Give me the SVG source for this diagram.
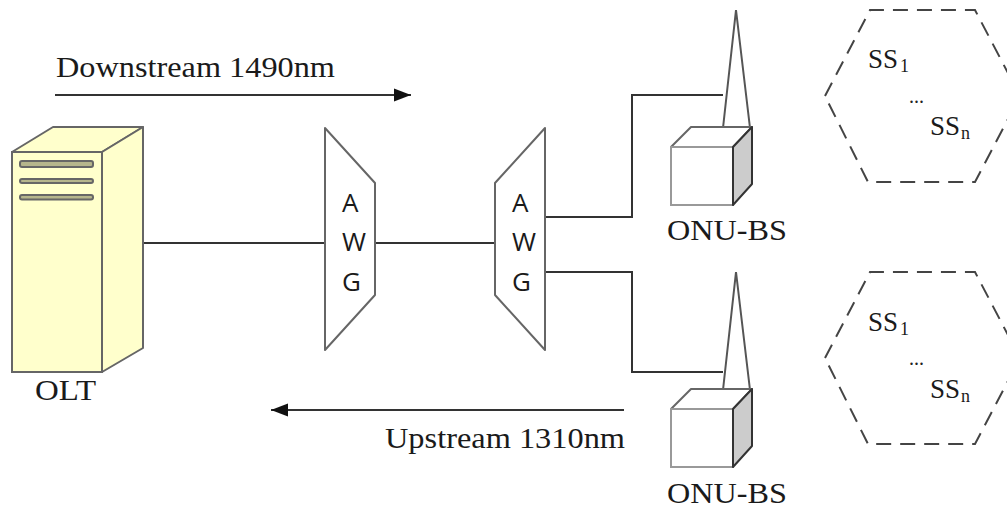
<svg xmlns="http://www.w3.org/2000/svg" width="1007" height="508" viewBox="0 0 1007 508">
<defs>
<marker id="ah" markerUnits="userSpaceOnUse" markerWidth="18" markerHeight="14" refX="17" refY="7" orient="auto"><path d="M0,0.5 L17,7 L0,13.500 Z" fill="#111"/></marker>
<g id="onu">
<path class="ant" d="M723,128 L736,10 L750,128"/>
<path class="cube" d="M671,147 L691,127 L752,127 L733,147 Z" fill="#fff"/>
<rect x="671" y="147" width="62" height="58" fill="#fff" stroke="#999" stroke-width="2"/>
<path d="M733,147 L752,127 L752,184 L733,205 Z" fill="#ccc" stroke="#333" stroke-width="2" stroke-linejoin="round"/>
</g>
<g id="hex">
<path d="M825,96 L870,10 L975,10 L1020,96 L975,182 L868,182 Z" fill="none" stroke="#444" stroke-width="2" stroke-dasharray="15 9"/>
</g>
</defs>
<style>
.lbl{font-family:"Liberation Serif","Times New Roman",serif;font-size:30px;fill:#1a1a1a}
.ss{font-family:"Liberation Serif","Times New Roman",serif;font-size:27px;fill:#1a1a1a}
.dots{font-family:"Liberation Serif","Times New Roman",serif;font-size:20px;fill:#222}
.awg{font-family:"Open Sans","Noto Sans",sans-serif;font-size:26px;fill:#1a1a1a}
.sub{font-size:18px}
.wire{fill:none;stroke:#333;stroke-width:2}
.ant{fill:none;stroke:#555;stroke-width:2}
.cube{stroke:#666;stroke-width:2;stroke-linejoin:round}
.trap{fill:#fff;stroke:#666;stroke-width:2;stroke-linejoin:round}
.slot{fill:#b5b58c;stroke:#666;stroke-width:2}
</style>
<rect width="1007" height="508" fill="#fff"/>
<g id="connectors">
<path class="wire" d="M143,243 H325"/>
<path class="wire" d="M375,243 H495"/>
<path class="wire" d="M545,217 H632 V95 H723"/>
<path class="wire" d="M545,272 H632 V372 H723"/>
<path class="wire" d="M55,95 H411" marker-end="url(#ah)"/>
<path class="wire" d="M624,410 H271" marker-end="url(#ah)"/>
</g>
<g id="olt">
<path d="M12,152 L53,127 H143 L102,152 Z" fill="#ffffcc" stroke="#666" stroke-width="2" stroke-linejoin="round"/>
<path d="M102,152 L143,127 V348 L102,372 Z" fill="#ffffcc" stroke="#666" stroke-width="2" stroke-linejoin="round"/>
<rect x="12" y="152" width="90" height="220" fill="#ffffcc" stroke="#666" stroke-width="2"/>
<rect class="slot" x="20" y="161" width="73" height="6" rx="2"/>
<rect class="slot" x="20" y="179" width="73" height="4" rx="2"/>
<rect class="slot" x="20" y="195" width="73" height="4.500" rx="2"/>
<text class="lbl" x="35" y="400" textLength="61" lengthAdjust="spacingAndGlyphs">OLT</text>
</g>
<g id="awg1">
<path class="trap" d="M325,128 L375,183 V295 L325,350 Z"/>
<text class="awg" x="342" y="212">A</text>
<text class="awg" x="342" y="251">W</text>
<text class="awg" x="342" y="291">G</text>
</g>
<g id="awg2">
<path class="trap" d="M545,128 L495,183 V295 L545,350 Z"/>
<text class="awg" x="512" y="212">A</text>
<text class="awg" x="512" y="251">W</text>
<text class="awg" x="512" y="291">G</text>
</g>
<g id="onu-bs-1">
<use href="#onu"/>
<text class="lbl" x="667" y="240" textLength="120" lengthAdjust="spacingAndGlyphs">ONU-BS</text>
</g>
<g id="onu-bs-2">
<use href="#onu" y="262"/>
<text class="lbl" x="667" y="503" textLength="120" lengthAdjust="spacingAndGlyphs">ONU-BS</text>
</g>
<g id="cell-1">
<use href="#hex"/>
<text class="ss" x="868" y="68">SS<tspan class="sub" dy="4" dx="2">1</tspan></text>
<text class="dots" x="909" y="103">...</text>
<text class="ss" x="930" y="135">SS<tspan class="sub" dy="4" dx="1">n</tspan></text>
</g>
<g id="cell-2">
<use href="#hex" y="262"/>
<text class="ss" x="868" y="331">SS<tspan class="sub" dy="4" dx="2">1</tspan></text>
<text class="dots" x="909" y="365">...</text>
<text class="ss" x="930" y="398">SS<tspan class="sub" dy="4" dx="1">n</tspan></text>
</g>
<g id="labels">
<text class="lbl" x="56" y="77" textLength="279" lengthAdjust="spacingAndGlyphs">Downstream 1490nm</text>
<text class="lbl" x="385" y="448" textLength="240" lengthAdjust="spacingAndGlyphs">Upstream 1310nm</text>
</g>
</svg>
